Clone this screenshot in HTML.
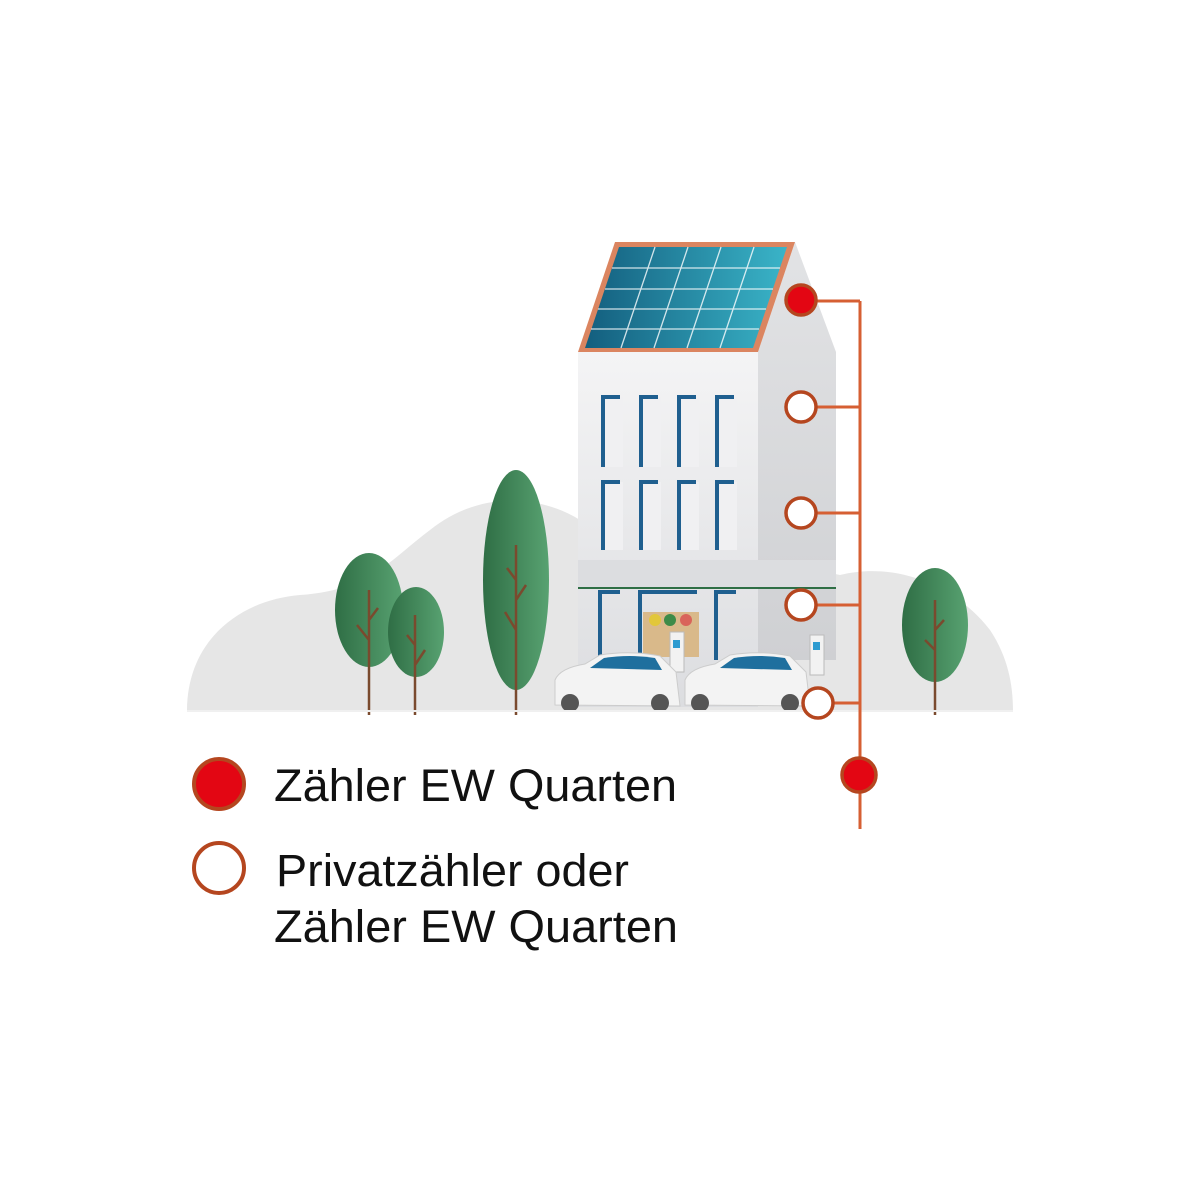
<!DOCTYPE html>
<html><head><meta charset="utf-8"><style>
html,body{margin:0;padding:0;background:#fff;}
svg{display:block}
text{font-family:"Liberation Sans",sans-serif;fill:#111}
</style></head><body>
<svg width="1200" height="1200" viewBox="0 0 1200 1200" xmlns="http://www.w3.org/2000/svg">
<defs>
<linearGradient id="sol" x1="0" y1="0" x2="1" y2="0"><stop offset="0" stop-color="#135e7e"/><stop offset="1" stop-color="#3ab4c8"/></linearGradient>
<linearGradient id="tree" x1="0" y1="0" x2="1" y2="0"><stop offset="0" stop-color="#2f6e45"/><stop offset="1" stop-color="#58a271"/></linearGradient>
<linearGradient id="side" x1="0" y1="0" x2="0" y2="1"><stop offset="0" stop-color="#e2e3e5"/><stop offset="1" stop-color="#cfd0d3"/></linearGradient>
<linearGradient id="front" x1="0" y1="0" x2="0" y2="1"><stop offset="0" stop-color="#f4f4f5"/><stop offset="1" stop-color="#dcdde0"/></linearGradient>
</defs>
<path d="M187,711 C187,640 240,600 300,595 C370,590 390,560 430,530 C480,490 540,495 580,520 L840,575 C900,560 960,590 990,630 C1010,660 1013,690 1013,711 Z" fill="#e6e6e6"/>
<g stroke="#7a4a2e" stroke-width="2.5" fill="none">
<ellipse cx="369" cy="610" rx="34" ry="57" fill="url(#tree)" stroke="none"/>
<ellipse cx="416" cy="632" rx="28" ry="45" fill="url(#tree)" stroke="none"/>
<ellipse cx="516" cy="580" rx="33" ry="110" fill="url(#tree)" stroke="none"/>
<ellipse cx="935" cy="625" rx="33" ry="57" fill="url(#tree)" stroke="none"/>
<path d="M369,590 V715 M369,640 L357,625 M369,620 L378,608"/>
<path d="M415,615 V715 M415,665 L425,650 M415,645 L407,635"/>
<path d="M516,545 V715 M516,630 L505,612 M516,600 L526,585 M516,580 L507,568"/>
<path d="M935,600 V715 M935,650 L925,640 M935,630 L944,620"/>
</g>
<path d="M758,352 L795,242 L836,352 L836,660 L758,660 Z" fill="url(#side)"/>
<rect x="578" y="352" width="180" height="355" fill="url(#front)"/>
<rect x="578" y="560" width="258" height="27" fill="#dcdde0"/>
<line x1="578" y1="588" x2="836" y2="588" stroke="#2f6e45" stroke-width="2"/>
<path d="M578,352 L615,242 L795,242 L758,352 Z" fill="#db8560"/>
<path d="M585,348 L619,247 L787,247 L753,348 Z" fill="url(#sol)"/>
<g stroke="#fff" stroke-width="1.3" opacity="0.8">
<line x1="612" y1="268" x2="780" y2="268"/><line x1="605" y1="289" x2="773" y2="289"/><line x1="598" y1="309" x2="766" y2="309"/><line x1="591" y1="329" x2="759" y2="329"/>
<line x1="655" y1="247" x2="621" y2="348"/><line x1="688" y1="247" x2="654" y2="348"/><line x1="721" y1="247" x2="687" y2="348"/><line x1="754" y1="247" x2="720" y2="348"/>
</g>
<g fill="#f0f0f2">
<rect x="603" y="397" width="20" height="70"/><rect x="641" y="397" width="20" height="70"/><rect x="679" y="397" width="20" height="70"/><rect x="717" y="397" width="20" height="70"/>
<rect x="603" y="482" width="20" height="68"/><rect x="641" y="482" width="20" height="68"/><rect x="679" y="482" width="20" height="68"/><rect x="717" y="482" width="20" height="68"/>
</g>
<g fill="none" stroke="#1f5f8f" stroke-width="4">
<path d="M603,467 V397 H620" /><path d="M641,467 V397 H658"/><path d="M679,467 V397 H696"/><path d="M717,467 V397 H734"/>
<path d="M603,550 V482 H620" /><path d="M641,550 V482 H658"/><path d="M679,550 V482 H696"/><path d="M717,550 V482 H734"/>
<path d="M600,660 V592 H620"/><path d="M640,660 V592 H697"/><path d="M716,660 V592 H736"/>
</g>
<rect x="643" y="612" width="56" height="45" fill="#d9b98a"/>
<circle cx="655" cy="620" r="6" fill="#e2c73a"/><circle cx="670" cy="620" r="6" fill="#3d8b48"/><circle cx="686" cy="620" r="6" fill="#d9645a"/>
<rect x="670" y="632" width="14" height="40" fill="#f2f2f2" stroke="#bbb"/><rect x="673" y="640" width="7" height="8" fill="#2d9bd0"/>
<rect x="810" y="635" width="14" height="40" fill="#f2f2f2" stroke="#bbb"/><rect x="813" y="642" width="7" height="8" fill="#2d9bd0"/>
<g>
<path d="M555,705 L555,680 Q560,668 585,664 L600,655 Q630,650 660,656 L676,672 L680,706 Z" fill="#f3f3f3" stroke="#ccc"/>
<path d="M590,668 L604,658 Q630,654 655,658 L662,670 Z" fill="#1f6f9e"/>
<circle cx="570" cy="703" r="9" fill="#555"/><circle cx="660" cy="703" r="9" fill="#555"/>
<path d="M685,705 L685,680 Q690,668 715,664 L730,655 Q760,650 790,656 L806,672 L810,706 Z" fill="#f3f3f3" stroke="#ccc"/>
<path d="M720,668 L734,658 Q760,654 785,658 L792,670 Z" fill="#1f6f9e"/>
<circle cx="700" cy="703" r="9" fill="#555"/><circle cx="790" cy="703" r="9" fill="#555"/>
</g>
<line x1="187" y1="711" x2="1013" y2="711" stroke="#f0f0f0" stroke-width="2"/>
<g stroke="#d65f33" stroke-width="3" fill="none">
<line x1="860" y1="301" x2="860" y2="829"/>
<line x1="815" y1="301" x2="860" y2="301"/>
<line x1="815" y1="407" x2="860" y2="407"/>
<line x1="815" y1="513" x2="860" y2="513"/>
<line x1="815" y1="605" x2="860" y2="605"/>
<line x1="832" y1="703" x2="860" y2="703"/>
</g>
<g stroke="#b5461f" stroke-width="3.5">
<circle cx="801" cy="300" r="15" fill="#e30613"/>
<circle cx="801" cy="407" r="15" fill="#fff"/>
<circle cx="801" cy="513" r="15" fill="#fff"/>
<circle cx="801" cy="605" r="15" fill="#fff"/>
<circle cx="818" cy="703" r="15" fill="#fff"/>
<circle cx="859" cy="775" r="17" fill="#e30613"/>
</g>
<circle cx="219" cy="784" r="25" fill="#e30613" stroke="#b5461f" stroke-width="4"/>
<circle cx="219" cy="868" r="25" fill="#fff" stroke="#b5461f" stroke-width="4"/>
<text x="274" y="801" font-size="45" textLength="403" lengthAdjust="spacingAndGlyphs">Zähler EW Quarten</text>
<text x="276" y="886" font-size="45" textLength="353" lengthAdjust="spacingAndGlyphs">Privatzähler oder</text>
<text x="274" y="942" font-size="45" textLength="404" lengthAdjust="spacingAndGlyphs">Zähler EW Quarten</text>
</svg>
</body></html>
